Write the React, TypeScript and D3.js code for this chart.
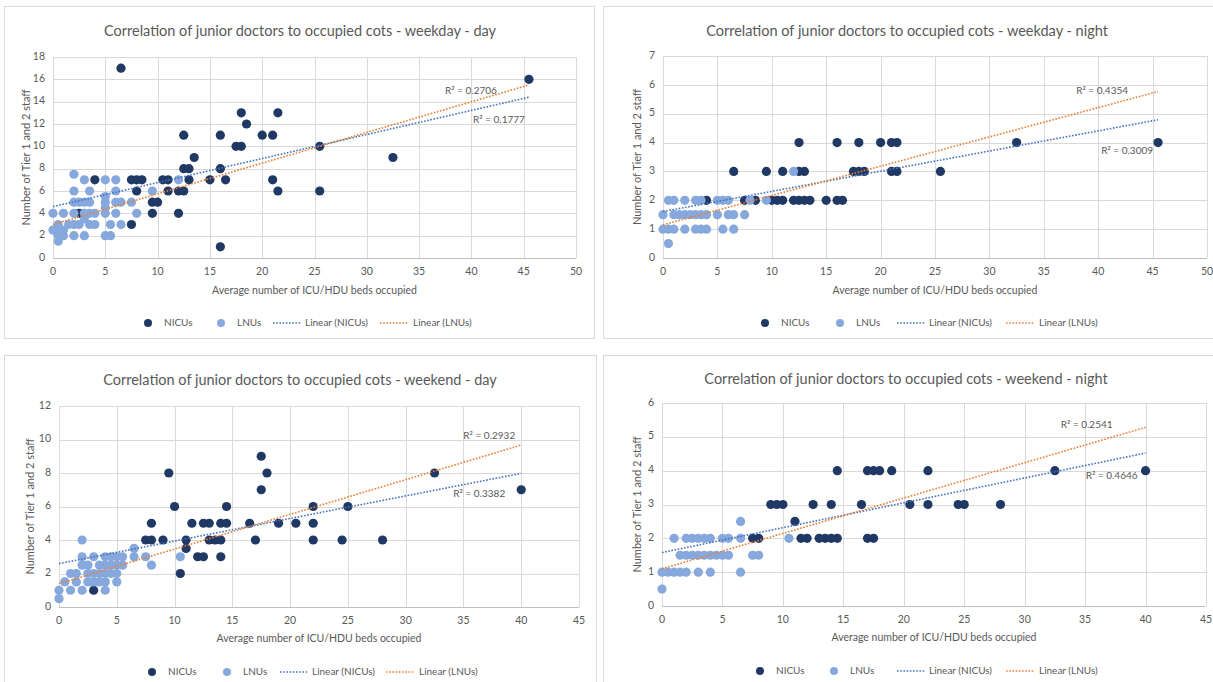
import * as d3 from "d3"

type Pt = [number, number]

// ---- weekday - day
const wdDayNicu: Pt[] = [
  [6.5, 17], [4, 7], [2.5, 4], [7.5, 3], [7.5, 7], [8, 7], [8.5, 7], [8, 6], [9.5, 5], [10, 5],
  [9.5, 4], [10.5, 7], [11, 7], [11, 6], [12, 6], [12.5, 6], [12, 4], [12.5, 11], [12.5, 8], [13, 8],
  [13, 7], [13.5, 9], [15, 7], [16, 11], [16, 8], [16.5, 7], [16, 1], [17.5, 10], [18, 10], [18, 13],
  [18.5, 12], [20, 11], [21, 11], [21, 7], [21.5, 6], [21.5, 13], [25.5, 10], [25.5, 6], [32.5, 9], [45.5, 16],
]
const wdDayLnu: Pt[] = [
  [0, 4], [0, 2.5], [0.5, 3], [0.5, 2.5], [0.5, 2], [0.5, 1.5], [1, 2.5], [1, 2], [1, 4],
  [1.5, 3], [2, 3], [2.5, 3], [3.5, 3], [4, 3], [5.5, 3], [6.5, 3],
  [2, 2], [3, 2], [5, 2], [5.5, 2], [3, 3.5],
  [2, 4], [3, 4], [3.5, 4], [4, 4], [5, 4], [6, 4], [8, 4], [5, 4.5],
  [2, 5], [2.5, 5], [3, 5], [3.5, 5], [5, 5], [6, 5], [6.5, 5], [7.5, 5], [5, 5.5],
  [2, 6], [3.5, 6], [6, 6], [9.5, 6], [3, 7], [5, 7], [6, 7], [12, 7], [2, 7.5],
]
const wdDayNicuTrend: Pt[] = [[0, 4.6], [45.5, 14.4]]
const wdDayLnuTrend: Pt[] = [[0, 3.0], [45.5, 15.5]]

// ---- weekday - night
const wdNightNicu: Pt[] = [
  [4, 2], [6.5, 3], [7.5, 2], [8.5, 2], [9.5, 3], [10, 2], [10.5, 2], [11, 2], [11, 3], [12.5, 4],
  [12.5, 3], [13, 3], [12, 2], [12.5, 2], [13, 2], [13.5, 2], [15, 2], [16, 2], [16.5, 2], [16, 4],
  [17.5, 3], [18, 3], [18.5, 3], [18, 4], [20, 4], [21, 4], [21.5, 4], [21, 3], [21.5, 3], [25.5, 3],
  [32.5, 4], [45.5, 4],
]
const wdNightLnu: Pt[] = [
  [0.5, 0.5],
  [0, 1], [0.5, 1], [1, 1], [2, 1], [3, 1], [3.5, 1], [4, 1], [5.5, 1], [6.5, 1],
  [0, 1.5], [1, 1.5], [1.5, 1.5], [2, 1.5], [2.5, 1.5], [3, 1.5], [3.5, 1.5], [4, 1.5], [5, 1.5], [6, 1.5], [6.5, 1.5], [7.5, 1.5],
  [0.5, 2], [1, 2], [2, 2], [3, 2], [3.5, 2], [5, 2], [5.5, 2], [6, 2], [8, 2], [9.5, 2],
  [12, 3],
]
const wdNightNicuTrend: Pt[] = [[0, 1.61], [45.5, 4.79]]
const wdNightLnuTrend: Pt[] = [[0, 1.15], [45.5, 5.77]]

// ---- weekend - day
const weDayNicu: Pt[] = [
  [3, 1], [7.5, 4], [8, 4], [8, 5], [9, 4], [9.5, 8], [10, 6], [10.5, 2], [11, 4], [11, 3.5],
  [11.5, 5], [12, 3], [12.5, 3], [12.5, 5], [13, 5], [13, 4], [13.5, 4], [14, 4], [14, 5], [14.5, 5],
  [14.5, 6], [14, 3], [16.5, 5], [17, 4], [17.5, 9], [17.5, 7], [18, 8], [19, 5], [20.5, 5], [22, 6],
  [22, 5], [22, 4], [24.5, 4], [25, 6], [28, 4], [32.5, 8], [40, 7],
]
const weDayLnu: Pt[] = [
  [0, 0.5], [0, 1], [1, 1], [2, 1], [4, 1],
  [0.5, 1.5], [1.5, 1.5], [2.5, 1.5], [3, 1.5], [3.5, 1.5], [4, 1.5], [5, 1.5],
  [1, 2], [1.5, 2], [2.5, 2], [3, 2], [3.5, 2], [4, 2], [4.5, 2], [5, 2],
  [2, 2.5], [2.5, 2.5], [3.5, 2.5], [4, 2.5], [4.5, 2.5], [5, 2.5], [5.5, 2.5], [8, 2.5],
  [2, 3], [3, 3], [4, 3], [4.5, 3], [5, 3], [5.5, 3], [6.5, 3], [7.5, 3], [10.5, 3],
  [6.5, 3.5], [2, 4],
]
const weDayNicuTrend: Pt[] = [[0, 2.59], [40, 7.98]]
const weDayLnuTrend: Pt[] = [[0, 1.39], [40, 9.67]]

// ---- weekend - night
const weNightNicu: Pt[] = [
  [7.5, 2], [8, 2], [9, 3], [9.5, 3], [10, 3], [11, 2.5], [11.5, 2], [12, 2], [12.5, 3], [13, 2],
  [13.5, 2], [14, 2], [14.5, 2], [14, 3], [14.5, 4], [16.5, 3], [17, 4], [17.5, 4], [18, 4], [17, 2],
  [17.5, 2], [19, 4], [20.5, 3], [22, 4], [22, 3], [24.5, 3], [25, 3], [28, 3], [32.5, 4], [40, 4],
]
const weNightLnu: Pt[] = [
  [0, 0.5],
  [0, 1], [0.5, 1], [1, 1], [1.5, 1], [2, 1], [3, 1], [4, 1], [6.5, 1],
  [1.5, 1.5], [2, 1.5], [2.5, 1.5], [3, 1.5], [3.5, 1.5], [4, 1.5], [4.5, 1.5], [5, 1.5], [5.5, 1.5], [7.5, 1.5], [8, 1.5],
  [1, 2], [2, 2], [2.5, 2], [3, 2], [3.5, 2], [4, 2], [5, 2], [5.5, 2], [6.5, 2], [10.5, 2],
  [6.5, 2.5],
]
const weNightNicuTrend: Pt[] = [[0, 1.58], [40, 4.52]]
const weNightLnuTrend: Pt[] = [[0, 1.1], [40, 5.28]]

const titles = [
  "Correlation of junior doctors to occupied cots - weekday - day",
  "Correlation of junior doctors to occupied cots - weekday - night",
  "Correlation of junior doctors to occupied cots - weekend - day",
  "Correlation of junior doctors to occupied cots - weekend - night",
]
const r2Nicu = ["0.1777", "0.3009", "0.3382", "0.4646"]
const r2Lnu = ["0.2706", "0.4354", "0.2932", "0.2541"]
const xMaxes = [50, 50, 45, 45]
const yMaxes = [18, 7, 12, 6]
const ySteps = [2, 1, 2, 1]
const legendLabels = ["NICUs", "LNUs", "Linear (NICUs)", "Linear (LNUs)"]

const NAVY = "#1f3864"
const LIGHT = "#86a8dc"
const BLUE = "#4472c4"
const ORANGE = "#ed7d31"
const GRID = "#d9d9d9"
const TEXT = "#595959"
const FONT = "Lato, 'Open Sans', sans-serif"

// layout of each panel (pixels)
const layout = [
  { frame: [4, 6, 594, 338], plot: [53, 576, 57, 258], titleX: 300, titleY: 32, yTitleX: 27, xTitleY: 291, legendY: 323, legendX: [148, 221, 273, 380], lnuLbl: [-32, 9], nicuLbl: [-4, 26] },
  { frame: [603, 6, 1218, 338], plot: [663, 1207, 56, 258], titleX: 907, titleY: 32, yTitleX: 638, xTitleY: 291, legendY: 323, legendX: [765, 840, 897, 1006], lnuLbl: [-30, 3], nicuLbl: [-5, 34] },
  { frame: [4, 355, 596, 690], plot: [59, 579, 406, 607], titleX: 300, titleY: 381, yTitleX: 31, xTitleY: 639, legendY: 672, legendX: [152, 227, 280, 386], lnuLbl: [-6, -6], nicuLbl: [-16, 24] },
  { frame: [603, 355, 1218, 690], plot: [662, 1206, 403, 606], titleX: 906, titleY: 380, yTitleX: 638, xTitleY: 638, legendY: 671, legendX: [760, 834, 897, 1006], lnuLbl: [-33, 1], nicuLbl: [-8, 26] },
]

const series = [
  { nicu: wdDayNicu, lnu: wdDayLnu, nicuT: wdDayNicuTrend, lnuT: wdDayLnuTrend },
  { nicu: wdNightNicu, lnu: wdNightLnu, nicuT: wdNightNicuTrend, lnuT: wdNightLnuTrend },
  { nicu: weDayNicu, lnu: weDayLnu, nicuT: weDayNicuTrend, lnuT: weDayLnuTrend },
  { nicu: weNightNicu, lnu: weNightLnu, nicuT: weNightNicuTrend, lnuT: weNightLnuTrend },
]

function Panel({ i }: { i: number }) {
  const L = layout[i]
  const s = series[i]
  const [px0, px1, py0, py1] = L.plot
  const x = d3.scaleLinear().domain([0, xMaxes[i]]).range([px0, px1])
  const y = d3.scaleLinear().domain([0, yMaxes[i]]).range([py1, py0])
  const line = d3.line<Pt>().x((d) => x(d[0])).y((d) => y(d[1]))
  const xTicks = d3.range(0, xMaxes[i] + 0.1, 5)
  const yTicks = d3.range(0, yMaxes[i] + 0.01, ySteps[i])
  const nEnd = s.nicuT[1]
  const lEnd = s.lnuT[1]
  const [lx0, lx1, lx2, lx3] = L.legendX
  const ly = L.legendY

  return (
    <g>
      <rect x={L.frame[0] + 0.5} y={L.frame[1] + 0.5} width={L.frame[2] - L.frame[0]} height={L.frame[3] - L.frame[1]} fill="white" stroke={GRID} />
      <text x={L.titleX} y={L.titleY} textAnchor="middle" dominantBaseline="middle" fontSize={14.5} fill={TEXT}>{titles[i]}</text>

      {yTicks.map((t) => (
        <g key={"y" + t}>
          <line x1={px0} x2={px1} y1={Math.round(y(t)) + 0.5} y2={Math.round(y(t)) + 0.5} stroke={t === 0 ? "#bfbfbf" : GRID} />
          <text x={px0 - 8} y={y(t)} textAnchor="end" dominantBaseline="middle" fontSize={10.5} fill={TEXT}>{t}</text>
        </g>
      ))}
      {xTicks.map((t) => (
        <g key={"x" + t}>
          <line x1={Math.round(x(t)) + 0.5} x2={Math.round(x(t)) + 0.5} y1={py0} y2={py1} stroke={GRID} />
          <text x={x(t)} y={py1 + 14} textAnchor="middle" dominantBaseline="middle" fontSize={10.5} fill={TEXT}>{t}</text>
        </g>
      ))}

      <text x={(px0 + px1) / 2} y={L.xTitleY} textAnchor="middle" dominantBaseline="middle" fontSize={10.5} fill={TEXT}>Average number of ICU/HDU beds occupied</text>
      <text transform={`translate(${L.yTitleX},${(py0 + py1) / 2}) rotate(-90)`} textAnchor="middle" dominantBaseline="middle" fontSize={11} fill={TEXT}>Number of Tier 1 and 2 staff</text>

      {s.nicu.map((d, k) => <circle key={"n" + k} cx={x(d[0])} cy={y(d[1])} r={4.6} fill={NAVY} />)}
      {s.lnu.map((d, k) => <circle key={"l" + k} cx={x(d[0])} cy={y(d[1])} r={4.6} fill={LIGHT} />)}

      <path d={line(s.nicuT) ?? ""} fill="none" stroke={BLUE} strokeWidth={1.6} strokeDasharray="1.6 1.6" />
      <path d={line(s.lnuT) ?? ""} fill="none" stroke={ORANGE} strokeWidth={1.6} strokeDasharray="1.6 1.6" />

      <text x={x(lEnd[0]) + L.lnuLbl[0]} y={y(lEnd[1]) + L.lnuLbl[1]} textAnchor="end" fontSize={10} fill={TEXT}>{"R² = " + r2Lnu[i]}</text>
      <text x={x(nEnd[0]) + L.nicuLbl[0]} y={y(nEnd[1]) + L.nicuLbl[1]} textAnchor="end" fontSize={10} fill={TEXT}>{"R² = " + r2Nicu[i]}</text>

      {/* legend */}
      <circle cx={lx0} cy={ly} r={4} fill={NAVY} />
      <text x={lx0 + 16} y={ly} dominantBaseline="middle" fontSize={10} fill={TEXT}>{legendLabels[0]}</text>
      <circle cx={lx1} cy={ly} r={4} fill={LIGHT} />
      <text x={lx1 + 16} y={ly} dominantBaseline="middle" fontSize={10} fill={TEXT}>{legendLabels[1]}</text>
      <line x1={lx2} x2={lx2 + 28} y1={ly} y2={ly} stroke={BLUE} strokeWidth={1.6} strokeDasharray="1.6 1.6" />
      <text x={lx2 + 32} y={ly} dominantBaseline="middle" fontSize={10} fill={TEXT}>{legendLabels[2]}</text>
      <line x1={lx3} x2={lx3 + 28} y1={ly} y2={ly} stroke={ORANGE} strokeWidth={1.6} strokeDasharray="1.6 1.6" />
      <text x={lx3 + 33} y={ly} dominantBaseline="middle" fontSize={10} fill={TEXT}>{legendLabels[3]}</text>
    </g>
  )
}

export default function App() {
  return (
    <svg width={1213} height={682} style={{ position: "absolute", left: 0, top: 0, background: "white" }} fontFamily={FONT}>
      {[0, 1, 2, 3].map((i) => <Panel key={i} i={i} />)}
    </svg>
  )
}
